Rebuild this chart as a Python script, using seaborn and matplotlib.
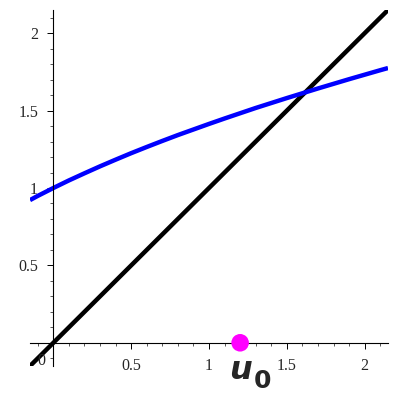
import numpy as np
import pandas as pd
import matplotlib.pyplot as plt
import seaborn as sns
from matplotlib.ticker import MultipleLocator

# values
curve_x = [-0.15, -0.1, 0.0, 0.1, 0.2, 0.3, 0.4, 0.5, 0.6, 0.7, 0.8, 0.9, 1.0,
           1.1, 1.2, 1.3, 1.4, 1.5, 1.6, 1.7, 1.8, 1.9, 2.0, 2.1, 2.15]
curve_y = [0.922, 0.949, 1.0, 1.049, 1.095, 1.140, 1.183, 1.225, 1.265,
           1.304, 1.342, 1.378, 1.414, 1.449, 1.483, 1.517, 1.549, 1.581,
           1.612, 1.643, 1.673, 1.703, 1.732, 1.761, 1.775]
diag_x = [-0.15, 2.15]
diag_y = [-0.15, 2.15]
u0_x = [1.2]
u0_y = [0.0]
x_ticks = [0.5, 1, 1.5, 2]
x_labels = ["0.5", "1", "1.5", "2"]
y_ticks = [0.5, 1, 1.5, 2]
y_labels = ["0.5", "1", "1.5", "2"]

sns.set_style("white")

fig = plt.figure(figsize=(4, 4), dpi=100)
ax = fig.add_axes([30/400, 34/400, 358/400, 356/400])

curve = pd.DataFrame({"x": curve_x, "y": curve_y})
diag = pd.DataFrame({"x": diag_x, "y": diag_y})
pt = pd.DataFrame({"x": u0_x, "y": u0_y})

sns.lineplot(data=diag, x="x", y="y", color="black", linewidth=3.2, ax=ax,
             sort=False, solid_capstyle="butt")
sns.lineplot(data=curve, x="x", y="y", color="#0000ff", linewidth=3.2, ax=ax,
             sort=False, solid_capstyle="butt")
sns.scatterplot(data=pt, x="x", y="y", color="#ff00ff", s=160, ax=ax,
                edgecolor="none", zorder=5, clip_on=False)

ax.set_xlim(-0.15, 2.15)
ax.set_ylim(-0.15, 2.15)
ax.set_xlabel("")
ax.set_ylabel("")

for s in ["top", "right"]:
    ax.spines[s].set_visible(False)
for s in ["left", "bottom"]:
    ax.spines[s].set_position(("data", 0))
    ax.spines[s].set_color("black")
    ax.spines[s].set_linewidth(0.8)

ax.set_xticks(x_ticks)
ax.set_xticklabels(x_labels)
ax.set_yticks(y_ticks)
ax.set_yticklabels(y_labels)
ax.xaxis.set_minor_locator(MultipleLocator(0.1))
ax.yaxis.set_minor_locator(MultipleLocator(0.1))
ax.tick_params(which="both", direction="out", color="black", width=0.7,
               labelsize=11.5, bottom=True, left=True)
ax.tick_params(which="major", length=4, pad=7)
ax.tick_params(which="minor", length=2.5, color="#555555")
for lab in ax.get_xticklabels() + ax.get_yticklabels():
    lab.set_fontfamily("Liberation Serif")

ax.text(-0.075, -0.12, "0", fontfamily="Liberation Serif", fontsize=11.5,
        ha="center", va="center")

ax.text(1.2, -0.235, "u", fontsize=23, fontweight="bold", fontstyle="italic",
        ha="center", va="baseline", family="DejaVu Sans", clip_on=False)
ax.text(1.345, -0.29, "0", fontsize=18, fontweight="bold",
        ha="center", va="baseline", family="DejaVu Sans", clip_on=False)

fig.savefig("out.png", dpi=100)
